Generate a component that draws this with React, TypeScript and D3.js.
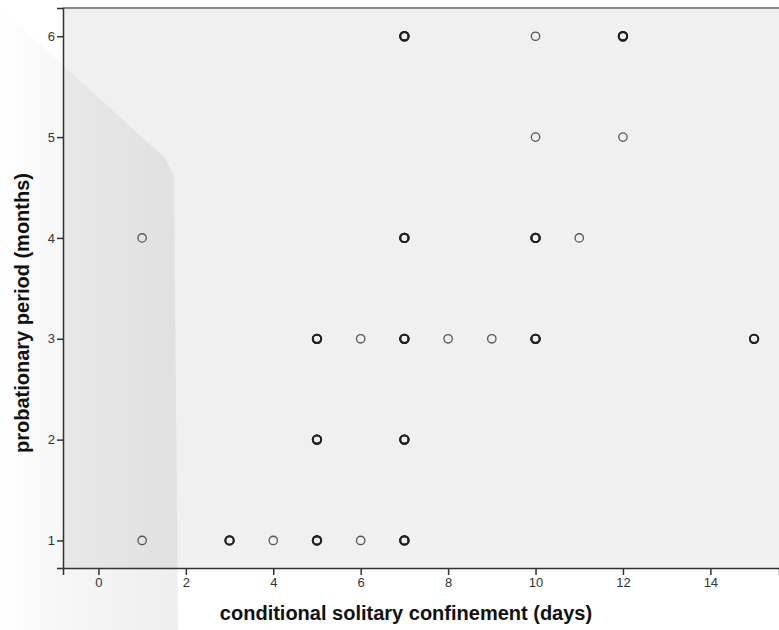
import React, { useEffect, useRef } from 'react';
import * as d3 from 'd3';

// each entry is one case; repeated pairs stack on top of each other
const daysValues = [
  7, 7, 7, 10, 12, 12, 12,
  10, 12,
  1, 7, 7, 7, 10, 10, 10, 11,
  5, 5, 5, 6, 7, 7, 7, 8, 9, 10, 10, 10, 15, 15,
  5, 5, 5, 7, 7, 7,
  1, 3, 3, 4, 5, 5, 5, 6, 7, 7, 7,
];
const monthValues = [
  6, 6, 6, 6, 6, 6, 6,
  5, 5,
  4, 4, 4, 4, 4, 4, 4, 4,
  3, 3, 3, 3, 3, 3, 3, 3, 3, 3, 3, 3, 3, 3,
  2, 2, 2, 2, 2, 2,
  1, 1, 1, 1, 1, 1, 1, 1, 1, 1, 1,
];
const xTicks = [0, 2, 4, 6, 8, 10, 12, 14];
const yTicks = [1, 2, 3, 4, 5, 6];
const xTitle = 'conditional solitary confinement (days)';
const yTitle = 'probationary period (months)';

const W = 779;
const H = 630;
const FONT = 'Arial, "Liberation Sans", sans-serif';

export default function App() {
  const ref = useRef<SVGSVGElement | null>(null);

  useEffect(() => {
    const svg = d3.select(ref.current);
    svg.selectAll('*').remove();

    const left = 63, top = 8, right = 779, bottom = 568;
    const x = d3.scaleLinear().domain([-0.81, 15.57]).range([left, right]);
    const y = d3.scaleLinear().domain([0.727, 6.28]).range([bottom, top]);

    // the faint grey shadow of the scanned page
    const defs = svg.append('defs');
    const grad = defs.append('linearGradient').attr('id', 'shade')
      .attr('x1', 0).attr('x2', 1).attr('y1', 0).attr('y2', 0);
    grad.append('stop').attr('offset', '0%').attr('stop-color', '#000').attr('stop-opacity', 0.0);
    grad.append('stop').attr('offset', '35%').attr('stop-color', '#000').attr('stop-opacity', 0.035);
    grad.append('stop').attr('offset', '100%').attr('stop-color', '#000').attr('stop-opacity', 0.065);

    svg.append('rect').attr('x', left).attr('y', top)
      .attr('width', right - left).attr('height', bottom - top)
      .attr('fill', '#f0f0f0');

    svg.append('path')
      .attr('d', 'M0,8 L165,158 L174,176 L178,630 L0,630 Z')
      .attr('fill', 'url(#shade)');

    // top border
    svg.append('line').attr('x1', left).attr('x2', right).attr('y1', top).attr('y2', top)
      .attr('stroke', '#888').attr('stroke-width', 2);

    const xAxis = svg.append('g').attr('transform', `translate(0,${bottom})`)
      .call(d3.axisBottom(x).tickValues(xTicks).tickSize(7).tickPadding(3).tickFormat(d3.format('d')));
    const yAxis = svg.append('g').attr('transform', `translate(${left},0)`)
      .call(d3.axisLeft(y).tickValues(yTicks).tickSize(6).tickPadding(2).tickFormat(d3.format('d')));
    [xAxis, yAxis].forEach(g => {
      g.select('.domain').attr('stroke', '#333').attr('stroke-width', 1.5);
      g.selectAll('.tick line').attr('stroke', '#333').attr('stroke-width', 1.5);
      g.selectAll('.tick text').attr('fill', '#333')
        .style('font-family', FONT).style('font-size', '13px');
    });

    // count stacked cases so that repeated ones draw heavier
    const counts = d3.rollup(daysValues.map((d, i) => [d, monthValues[i]]),
      v => v.length, p => `${p[0]}|${p[1]}`);

    svg.append('g').selectAll('circle')
      .data(daysValues.map((d, i) => ({ d, m: monthValues[i] })))
      .enter().append('circle')
        .attr('cx', p => x(p.d))
        .attr('cy', p => y(p.m))
        .attr('r', 4.2)
        .attr('fill', 'none')
        .attr('stroke', p => (counts.get(`${p.d}|${p.m}`) ?? 1) > 1 ? '#222' : '#555')
        .attr('stroke-width', p => (counts.get(`${p.d}|${p.m}`) ?? 1) > 1 ? 1.9 : 1.3);

    svg.append('text')
      .attr('x', 406).attr('y', 620)
      .attr('text-anchor', 'middle')
      .style('font-family', FONT)
      .style('font-size', '20px').style('font-weight', 'bold')
      .attr('fill', '#111')
      .text(xTitle);

    svg.append('text')
      .attr('transform', `translate(29,${313}) rotate(-90)`)
      .attr('text-anchor', 'middle')
      .style('font-family', FONT)
      .style('font-size', '20px').style('font-weight', 'bold')
      .attr('fill', '#111')
      .text(yTitle);
  }, []);

  return (
    <svg ref={ref} width={W} height={H}
      style={{ position: 'absolute', left: 0, top: 0, background: '#fff', display: 'block' }} />
  );
}
